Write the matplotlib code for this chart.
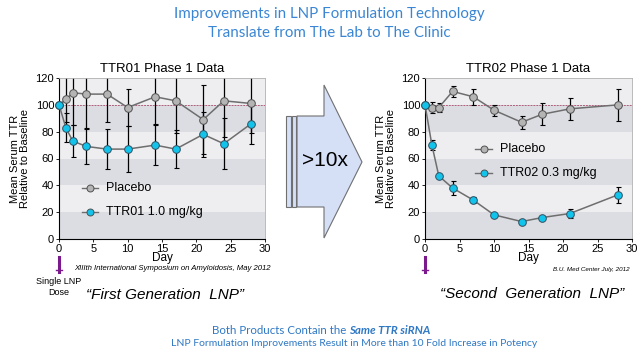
import matplotlib
matplotlib.use("Agg")
import matplotlib.pyplot as plt
from matplotlib.patches import Polygon, Rectangle

plt.rcParams['font.family'] = ['Liberation Sans', 'DejaVu Sans']

# data
days1 = [0, 1, 2, 4, 7, 10, 14, 17, 21, 24, 28]
placebo1 = [100, 104, 109, 108, 108, 98, 106, 103, 89, 103, 101]
placebo1_err = [0, 17, 24, 25, 21, 14, 20, 24, 26, 27, 22]
ttr01 = [100, 83, 73, 69, 67, 67, 70, 67, 78, 71, 86]
ttr01_err = [0, 11, 12, 13, 15, 17, 15, 14, 17, 19, 15]

days2 = [0, 1, 2, 4, 7, 10, 14, 17, 21, 28]
placebo2 = [100, 98, 98, 110, 106, 96, 87, 93, 97, 100]
placebo2_err = [0, 4, 3, 4, 6, 4, 5, 8, 8, 12]
ttr02 = [100, 70, 47, 38, 29, 18, 13, 16, 19, 33]
ttr02_err = [0, 4, 1, 5, 2, 1, 1, 1, 3, 6]

yticks = [0, 20, 40, 60, 80, 100, 120]
xticks = [0, 5, 10, 15, 20, 25, 30]

blue = '#3a86d4'
purple = '#7b1a8c'

fig = plt.figure(figsize=(6.4, 3.55), dpi=100)
fig.patch.set_facecolor('white')


def panel(rect, title, days, pl, pl_err, tr, tr_err, tr_label, leg_y):
    ax = fig.add_axes(rect)
    ax.set_xlim(0, 30)
    ax.set_ylim(0, 120)
    # alternating grey bands
    for lo in range(0, 120, 20):
        c = '#dcdde3' if (lo // 20) % 2 == 0 else '#eeeef1'
        ax.axhspan(lo, lo + 20, color=c, lw=0, zorder=0)
    ax.axhline(100, color='#b0607a', lw=0.7, ls=(0, (2, 1)), zorder=1)
    ax.errorbar(days, pl, yerr=pl_err, fmt='none', ecolor='black',
                elinewidth=0.9, capsize=1.8, capthick=0.8, zorder=2)
    ax.errorbar(days, tr, yerr=tr_err, fmt='none', ecolor='black',
                elinewidth=0.9, capsize=1.8, capthick=0.8, zorder=2)
    ax.plot(days, pl, '-o', color='#6e6e6e', lw=1.1, ms=5.5,
            mfc='#b4b4b4', mec='#505050', mew=0.7, zorder=3, clip_on=False)
    ax.plot(days, tr, '-o', color='#6e6e6e', lw=1.1, ms=5.5,
            mfc='#12c4ec', mec='#305060', mew=0.7, zorder=3, clip_on=False)
    # legend drawn by hand (no frame)
    lx = leg_y[0]
    for yy, mfc, lab in [(leg_y[1], '#b4b4b4', 'Placebo'),
                         (leg_y[2], '#12c4ec', tr_label)]:
        ax.plot([lx - 1.2, lx + 1.2], [yy, yy], color='#6e6e6e', lw=1, zorder=3)
        ax.plot([lx], [yy], 'o', ms=5, mfc=mfc, mec='#505050', mew=0.7, zorder=4)
        ax.text(lx + 2.4, yy, lab, fontsize=9, va='center', ha='left')
    ax.set_xticks(xticks)
    ax.set_yticks(yticks)
    ax.tick_params(labelsize=8, length=2.5, width=0.6, pad=1)
    for s in ['top', 'right']:
        ax.spines[s].set_color('#b0b0b0')
        ax.spines[s].set_linewidth(0.6)
    for s in ['left', 'bottom']:
        ax.spines[s].set_linewidth(0.8)
    ax.set_xlabel('Day', fontsize=8.5, labelpad=-1)
    ax.set_ylabel('Mean Serum TTR\nRelative to Baseline', fontsize=8, labelpad=4,
                  linespacing=0.95)
    ax.set_title(title, fontsize=9.5, pad=4)
    return ax


ax1 = panel([59 / 640, 116 / 355, 206 / 640, 161 / 355], 'TTR01 Phase 1 Data',
            days1, placebo1, placebo1_err, ttr01, ttr01_err, 'TTR01 1.0 mg/kg',
            (4.5, 38, 20))
ax2 = panel([425 / 640, 116 / 355, 207 / 640, 161 / 355], 'TTR02 Phase 1 Data',
            days2, placebo2, placebo2_err, ttr02, ttr02_err, 'TTR02 0.3 mg/kg',
            (8.5, 67, 49))


def px(x, y):
    return (x / 640, 1 - y / 355)


# big block arrow in the middle
arrow_pts = [px(297, 116), px(324, 116), px(324, 85), px(362, 162),
             px(324, 238), px(324, 207), px(297, 207)]
fig.patches.append(Polygon(arrow_pts, closed=True, transform=fig.transFigure,
                           fc='#d5e0f7', ec='#707070', lw=0.8))
for x0, w in [(286, 4.5), (291.5, 4.5)]:
    fig.patches.append(Rectangle(px(x0, 207), w / 640, 91 / 355,
                                 transform=fig.transFigure, fc='#d5e0f7',
                                 ec='#707070', lw=0.8))
fig.text(*px(325, 160), '>10x', fontsize=15, ha='center', va='center')

# dose markers under day 0
for x0 in [59, 425]:
    fig.add_artist(plt.Line2D([x0 / 640, x0 / 640], [1 - 257 / 355, 1 - 272 / 355],
                              color=purple, lw=2.2, transform=fig.transFigure))
    fig.add_artist(plt.Line2D([(x0 - 3) / 640, (x0 + 3) / 640],
                              [1 - 270 / 355, 1 - 270 / 355],
                              color=purple, lw=1, transform=fig.transFigure))
fig.text(*px(59, 287), 'Single LNP\nDose', fontsize=6.5, ha='center', va='center',
         linespacing=1.3)

fig.text(*px(172, 269), 'XIIIth International Symposium on Amyloidosis, May 2012',
         fontsize=5.6, style='italic', ha='center', va='center')
fig.text(*px(591, 269), 'B.U. Med Center July, 2012',
         fontsize=4.5, style='italic', ha='center', va='center')

fig.text(*px(165, 295), '\u201cFirst Generation  LNP\u201d', fontsize=11,
         style='italic', ha='center', va='center')
fig.text(*px(532, 294), '\u201cSecond  Generation  LNP\u201d', fontsize=11,
         style='italic', ha='center', va='center')

# header
fig.text(*px(329, 14), 'Improvements in LNP Formulation Technology', fontsize=10.9,
         color=blue, ha='center', va='center', family='Lato')
fig.text(*px(329, 33), 'Translate from The Lab to The Clinic', fontsize=10.9,
         color=blue, ha='center', va='center', family='Lato')

# footer
fig.text(*px(349, 330), 'Both Products Contain the ', fontsize=8.3, color='#2f78c4',
         ha='right', va='center', family='Lato')
fig.text(*px(349, 330), 'Same TTR siRNA', fontsize=8.3, color='#2f78c4',
         ha='left', va='center', family='Lato', weight='bold', style='italic')
fig.text(*px(354, 344),
         'LNP Formulation Improvements Result in More than 10 Fold Increase in Potency',
         fontsize=7.5, color='#2f78c4', ha='center', va='center', family='Lato')

fig.savefig('out.png', dpi=100)
